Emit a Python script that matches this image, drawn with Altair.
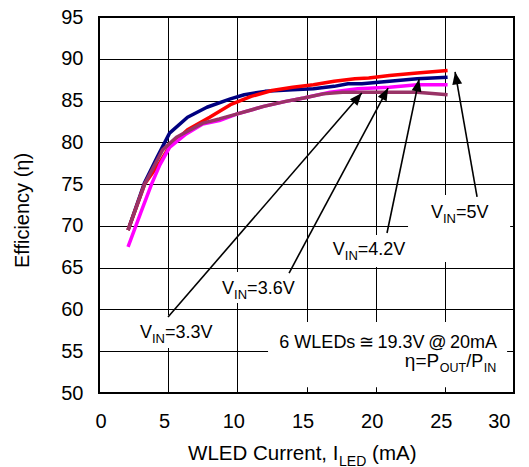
import math
import altair as alt
import pandas as pd

# ---------------- data ----------------
x_5v = [2.1, 3.3, 4.4, 5.1, 6.4, 8.0, 9.5, 11.0, 12.5, 14.0, 15.5, 17.0, 18.5, 19.5, 21.0, 23.0, 25.2]
y_5v = [69.5, 75.0, 77.6, 79.5, 81.5, 83.0, 84.5, 85.5, 86.2, 86.6, 86.9, 87.3, 87.6, 87.7, 88.0, 88.3, 88.6]

x_42v = [2.1, 3.3, 4.2, 5.1, 6.4, 7.8, 9.5, 10.5, 12.0, 14.0, 15.5, 17.0, 18.0, 19.0, 21.0, 23.0, 25.2]
y_42v = [69.5, 75.2, 78.2, 81.1, 83.0, 84.2, 85.2, 85.7, 86.1, 86.3, 86.4, 86.7, 87.0, 87.0, 87.3, 87.6, 87.8]

x_36v = [2.1, 3.0, 3.8, 4.4, 5.1, 6.3, 7.5, 8.7, 10.0, 11.9, 13.5, 14.8, 16.7, 18.7, 21.0, 23.0, 25.2]
y_36v = [67.5, 71.5, 75.0, 77.3, 79.4, 81.0, 82.2, 82.6, 83.4, 84.3, 84.9, 85.3, 86.0, 86.4, 86.6, 86.9, 86.9]

x_33v = [2.1, 3.3, 4.6, 5.6, 7.5, 8.7, 10.0, 11.9, 13.5, 14.8, 16.2, 17.6, 19.0, 21.0, 23.0, 25.2]
y_33v = [69.5, 75.0, 79.1, 80.6, 82.3, 82.8, 83.4, 84.3, 84.9, 85.3, 85.8, 86.0, 86.0, 86.0, 86.0, 85.7]

series_names = ["VIN=4.2V", "VIN=5V", "VIN=3.6V", "VIN=3.3V"]   # drawing order
series_colors = ["#000080", "#ff0000", "#ff00ff", "#993366"]

x_ticks = [0, 5, 10, 15, 20, 25, 30]
y_ticks = [50, 55, 60, 65, 70, 75, 80, 85, 90, 95]

# labels: text after "V" + subscript "IN"
label_text = ["=5V", "=4.2V", "=3.6V", "=3.3V"]

# ---------------- layout (annotation positions, in data units) ----------------
W, H = 415, 376
XD, YD = [0, 30], [50, 95]
FONT = "Liberation Sans, Arial, sans-serif"

label_pos_x = [24.0, 16.9, 8.9, 2.96]
label_pos_y = [71.0, 66.5, 61.8, 56.6]
arrow_tail_x = [27.33, 20.82, 13.74, 4.99]
arrow_tail_y = [73.46, 69.15, 64.36, 59.1]
arrow_tip_x = [25.74, 23.14, 20.9, 19.0]
arrow_tip_y = [88.42, 87.56, 86.5, 85.9]

box_x = [22.34, 16.7, 8.39, 2.6, 12.22]
box_x2 = [29.72, 22.13, 14.53, 8.53, 29.5]
box_y = [73.7, 68.91, 64.48, 59.34, 58.5]
box_y2 = [65.68, 65.08, 60.77, 55.39, 50.7]

xs = alt.Scale(domain=XD, nice=False, zero=False)
ys = alt.Scale(domain=YD, nice=False, zero=False)

x_axis = alt.Axis(values=x_ticks, grid=True, gridColor="black", gridWidth=1, gridOpacity=1,
                  domain=False, ticks=False, tickSize=0, labelFont=FONT, labelFontSize=20,
                  labelColor="black", labelPadding=18, labelOffset=-4, title=None)
y_axis = alt.Axis(values=y_ticks, grid=True, gridColor="black", gridWidth=1, gridOpacity=1,
                  domain=False, ticks=False, tickSize=0, labelFont=FONT, labelFontSize=20,
                  labelColor="black", labelPadding=16, title="Efficiency (η)",
                  titleFont=FONT, titleFontSize=20, titleFontWeight="normal", titleColor="black",
                  titleAngle=270, titleX=-71, titleY=193, titleAlign="center",
                  titleBaseline="alphabetic")


def X(f):
    return alt.X(f, type="quantitative", scale=xs, axis=x_axis)


def Y(f):
    return alt.Y(f, type="quantitative", scale=ys, axis=y_axis)


# white boxes behind the annotations
boxes = pd.DataFrame({"x": box_x, "x2": box_x2, "y": box_y, "y2": box_y2})
box_layer = alt.Chart(boxes).mark_rect(color="white").encode(
    x=X("x"), x2="x2", y=Y("y"), y2="y2")

# curves
curve_data = {
    "VIN=5V": (x_5v, y_5v),
    "VIN=4.2V": (x_42v, y_42v),
    "VIN=3.6V": (x_36v, y_36v),
    "VIN=3.3V": (x_33v, y_33v),
}
line_layers = []
for name, col in zip(series_names, series_colors):
    xv, yv = curve_data[name]
    d = pd.DataFrame({"x": xv, "y": yv})
    line_layers.append(
        alt.Chart(d).mark_line(color=col, strokeWidth=3.5, strokeJoin="round", strokeCap="butt")
        .encode(x=X("x"), y=Y("y"))
    )

# arrows
angles = []
for tx, ty, hx, hy in zip(arrow_tail_x, arrow_tail_y, arrow_tip_x, arrow_tip_y):
    dx = (hx - tx) * W / (XD[1] - XD[0])
    dy = -(hy - ty) * H / (YD[1] - YD[0])
    angles.append(math.degrees(math.atan2(dx, -dy)) % 360)
arrows = pd.DataFrame({"tx": arrow_tail_x, "ty": arrow_tail_y, "hx": arrow_tip_x,
                       "hy": arrow_tip_y, "ang": angles})
arrow_lines = alt.Chart(arrows).mark_rule(color="black", strokeWidth=1.6).encode(
    x=X("tx"), y=Y("ty"), x2="hx", y2="hy")
arrow_heads = alt.Chart(arrows).mark_point(
    shape="M0,0L-0.4,1L0.4,1Z", size=620, filled=True, color="black", opacity=1,
    strokeWidth=0).encode(x=X("hx"), y=Y("hy"), angle=alt.Angle("ang:Q", scale=None))

# V_IN labels with subscript
labels = pd.DataFrame({"x": label_pos_x, "y": label_pos_y, "v": ["V"] * 4,
                       "sub": ["IN"] * 4, "rest": label_text})
txt_common = dict(font=FONT, color="black", align="left", baseline="alphabetic")
lab_v = alt.Chart(labels).mark_text(fontSize=18, **txt_common).encode(
    x=X("x"), y=Y("y"), text="v:N")
lab_sub = alt.Chart(labels).mark_text(fontSize=13, dx=12, dy=5, **txt_common).encode(
    x=X("x"), y=Y("y"), text="sub:N")
lab_rest = alt.Chart(labels).mark_text(fontSize=18, dx=25, **txt_common).encode(
    x=X("x"), y=Y("y"), text="rest:N")

# condition note
note1 = pd.DataFrame({"x": [28.78], "y": [55.4], "t": ["6 WLEDs\u2009≅\u200919.3V\u2009@\u200920mA"]})
note_layer1 = alt.Chart(note1).mark_text(fontSize=18, font=FONT, color="black", align="right",
                                         baseline="alphabetic").encode(
    x=X("x"), y=Y("y"), text="t:N")
eta = pd.DataFrame({"x": [28.71], "y": [53.1], "a": ["η=P"], "b": ["OUT"], "c": ["/P"], "d": ["IN"]})
rt = dict(font=FONT, color="black", align="right", baseline="alphabetic")
eta_a = alt.Chart(eta).mark_text(fontSize=19, dx=-57, **rt).encode(x=X("x"), y=Y("y"), text="a:N")
eta_b = alt.Chart(eta).mark_text(fontSize=12.5, dx=-30, dy=5, **rt).encode(x=X("x"), y=Y("y"), text="b:N")
eta_c = alt.Chart(eta).mark_text(fontSize=18, dx=-13, **rt).encode(x=X("x"), y=Y("y"), text="c:N")
eta_d = alt.Chart(eta).mark_text(fontSize=12.5, dx=0, dy=5, **rt).encode(x=X("x"), y=Y("y"), text="d:N")

# x axis title with subscript
xt = pd.DataFrame({"x": [6.44], "y": [42.0], "a": ["WLED Current, I"], "b": ["LED"], "c": ["(mA)"]})
lt = dict(font=FONT, color="black", align="left", baseline="alphabetic")
xt_a = alt.Chart(xt).mark_text(fontSize=20.5, **lt).encode(x=X("x"), y=Y("y"), text="a:N")
xt_b = alt.Chart(xt).mark_text(fontSize=14, dx=151, dy=6, **lt).encode(x=X("x"), y=Y("y"), text="b:N")
xt_c = alt.Chart(xt).mark_text(fontSize=20.5, dx=184, **lt).encode(x=X("x"), y=Y("y"), text="c:N")

chart = alt.layer(
    box_layer, *line_layers, arrow_lines, arrow_heads,
    lab_v, lab_sub, lab_rest, note_layer1, eta_a, eta_b, eta_c, eta_d,
    xt_a, xt_b, xt_c,
).properties(
    width=W, height=H,
    autosize=alt.AutoSizeParams(type="none"),
    padding={"left": 91, "top": 9, "right": 5, "bottom": 74},
    background="white",
).configure_view(stroke="black", strokeWidth=2)

chart.save("out.html", embed_options={"renderer": "svg", "actions": False})
